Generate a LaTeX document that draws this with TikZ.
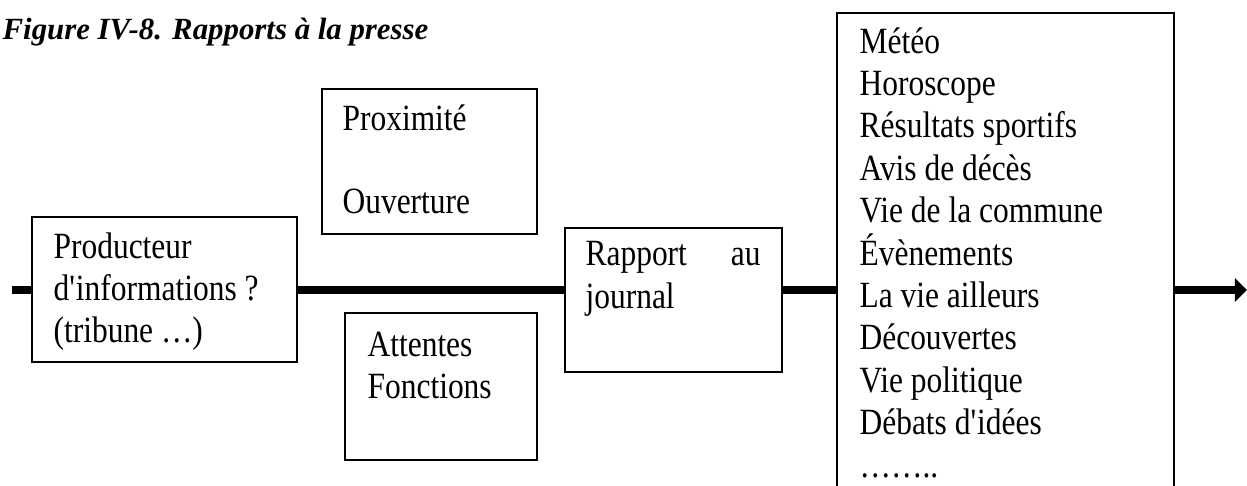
\documentclass[tikz,border=0pt]{standalone}
\usepackage{fontspec}
\setmainfont{Liberation Serif}[FakeStretch=0.85]
\newfontfamily\titlefont{Liberation Serif}
\usetikzlibrary{fit,arrows.meta}
\begin{document}
\begin{tikzpicture}[x=0.3243pt,y=-0.3243pt,
  box/.style={draw=black, line width=0.4pt, inner sep=0pt},
  txt/.style={anchor=base west, inner sep=0pt, font=\fontsize{12}{13.7}\selectfont},
  flow/.style={line width=2.6pt},
  tip/.style={-{Triangle[length=3.9pt,width=7.5pt]}}]
\useasboundingbox (0,0) rectangle (1247,486);
\clip (0,0) rectangle (1247,486);
% title
\node[anchor=base west, inner sep=0pt, font=\titlefont\fontsize{10}{12}\selectfont\bfseries\itshape] (title) at (2,39) {Figure IV-8. Rapports à la presse};
% boxes
\node[box, fit={(32,217)(297,362)}] (prod) {};
\node[box, fit={(322,89)(537,234)}] (prox) {};
\node[box, fit={(345,313)(537,460)}] (att) {};
\node[box, fit={(565,228)(782,372)}] (rap) {};
\node[box, fit={(837,13)(1174,530)}] (news) {};
% texts
\node[txt] (p1) at (53,258) {Producteur};
\node[txt] (p2) at (53,300) {d\textquotesingle{}informations ?};
\node[txt] (p3) at (53,342) {(tribune …)};
\node[txt] (x1) at (342,130) {Proximité};
\node[txt] (x2) at (342,213) {Ouverture};
\node[txt] (a1) at (367,356) {Attentes};
\node[txt] (a2) at (367,398) {Fonctions};
\node[txt, text width=56.75pt] (r1) at (585,265) {Rapport\hfill au};
\node[txt] (r2) at (585,308) {journal};
\foreach \t [count=\i from 0] in {{Météo},{Horoscope},{Résultats sportifs},{Avis de décès},{Vie de la commune},{Évènements},{La vie ailleurs},{Découvertes},{Vie politique},{Débats d\textquotesingle{}idées},{……..}}
  \node[txt] (n\i) at (859,{53+42.4*\i}) {\t};
% flow line
\coordinate (start) at (12,290);
\coordinate (end) at (1247,290);
\draw[flow] (start) -- (prod.west |- start);
\draw[flow] (prod.east |- start) -- (rap.west |- start);
\draw[flow] (rap.east |- start) -- (news.west |- start);
\draw[flow, tip] (news.east |- start) -- (end);
\end{tikzpicture}
\end{document}
